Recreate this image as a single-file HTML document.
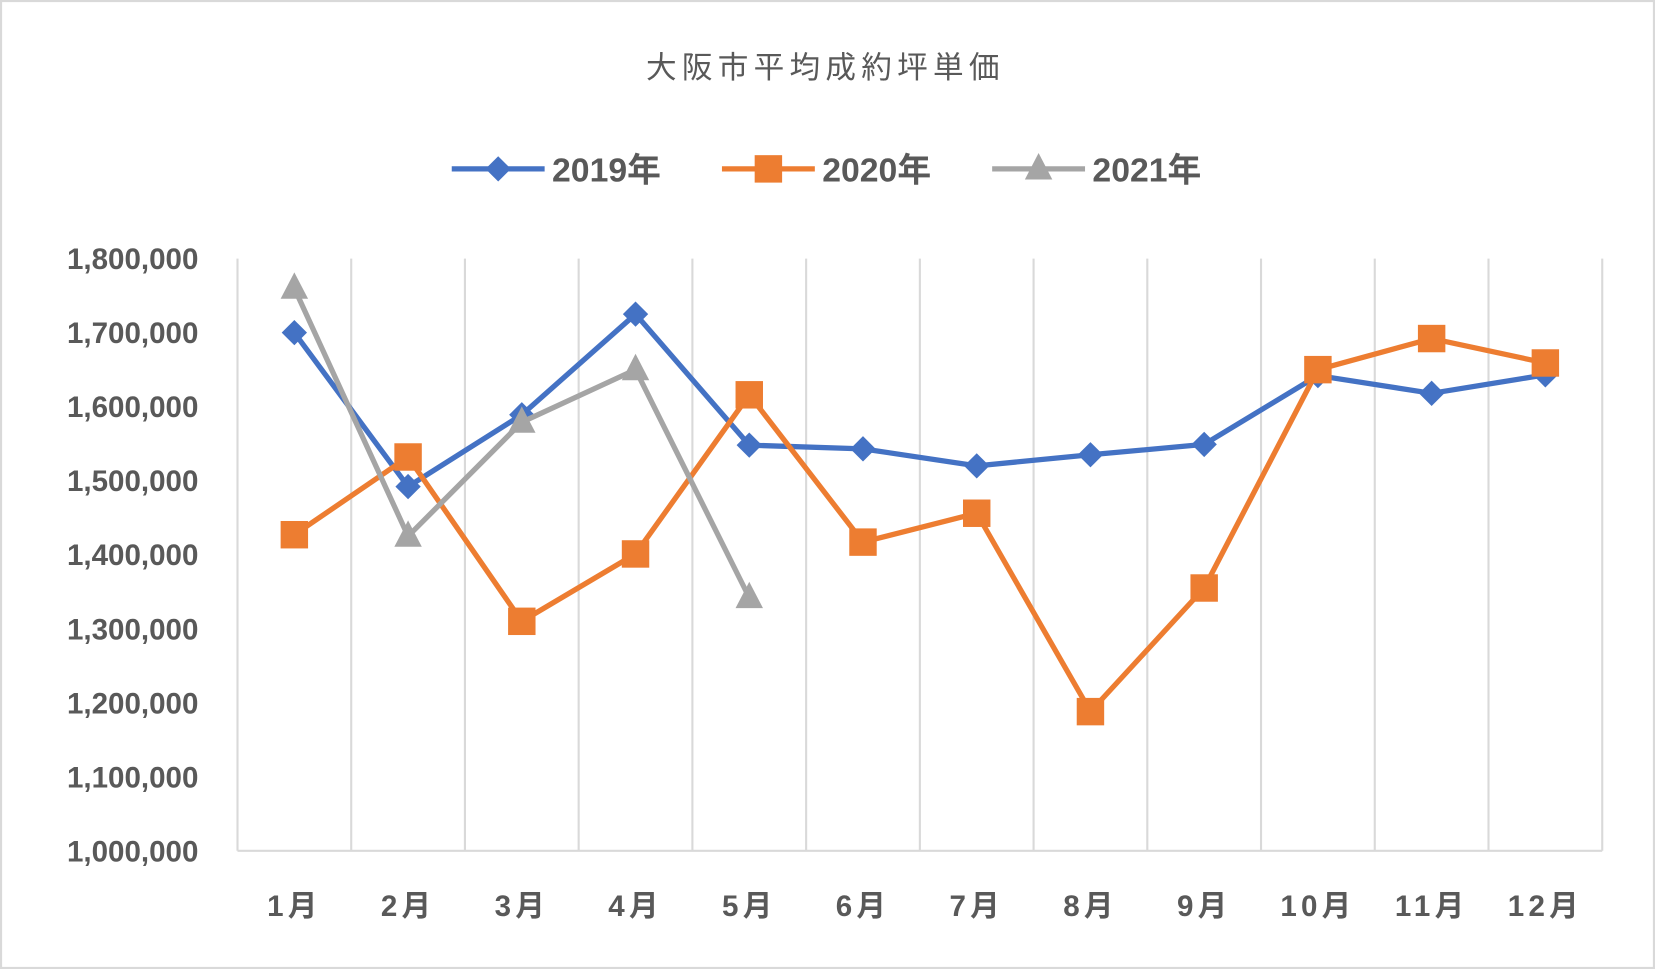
<!DOCTYPE html>
<html><head><meta charset="utf-8"><style>
html,body{margin:0;padding:0;background:#fff}
svg{display:block}
text{font-family:"Liberation Sans","Noto Sans CJK JP",sans-serif;fill:#595959}
</style></head><body>
<svg id="chart" width="1655" height="969" viewBox="0 0 1568 918" preserveAspectRatio="none">
<rect x="1" y="1" width="1566" height="916" fill="#fff" stroke="#d9d9d9" stroke-width="2"/>
<text x="782" y="74" text-anchor="middle" font-size="29" letter-spacing="5">大阪市平均成約坪単価</text>
<g id="legend"></g>
<g id="grid"></g>
<g id="series"></g>
</svg>
<script>
const categories=["1月","2月","3月","4月","5月","6月","7月","8月","9月","10月","11月","12月"];
const seriesNames=["2019年","2020年","2021年"];
const s2019=[1700000,1492000,1589000,1725000,1548000,1543000,1520000,1535000,1549000,1642000,1618000,1643000];
const s2020=[1427000,1532000,1310000,1401000,1616000,1417000,1456000,1188000,1355000,1650000,1692000,1659000];
const s2021=[1760000,1425000,1579000,1650000,1342000];
const yTicks=[1000000,1100000,1200000,1300000,1400000,1500000,1600000,1700000,1800000];
const colors=["#4472C4","#ED7D31","#A5A5A5"];
const NS="http://www.w3.org/2000/svg";
const L=225,R=1518,T=245,B=806,yMin=1000000,yMax=1800000;
const bw=(R-L)/categories.length;
function xs(i){return L+bw*(i+0.5);}
function ys(v){return B-(v-yMin)/(yMax-yMin)*(B-T);}
function mk(tag,a,parent){const e=document.createElementNS(NS,tag);for(const k in a)e.setAttribute(k,a[k]);parent.appendChild(e);return e;}
const grid=document.getElementById('grid');
for(let i=0;i<=categories.length;i++){
 const l=mk('line',{x1:L+bw*i,x2:L+bw*i,y1:T,y2:B,stroke:'#d9d9d9','stroke-width':2},grid);
 
 
}
const ax=mk('line',{x1:L,x2:R,y1:B,y2:B,stroke:'#d9d9d9','stroke-width':2},grid);


yTicks.forEach(v=>{
 const t=mk('text',{x:188,y:ys(v)+10,'text-anchor':'end','font-size':28,'font-weight':'bold'},grid);
 t.textContent=v.toLocaleString('en-US');
 
 
});
categories.forEach((c,i)=>{
 const t=mk('text',{x:xs(i),y:868,'text-anchor':'middle','font-size':28,'font-weight':'bold','letter-spacing':4},grid);
 t.textContent=c;
 
 
});
function marker(kind,x,y,col,g){
 let e;
 if(kind===0)e=mk('polygon',{points:`${x},${y-12} ${x+12},${y} ${x},${y+12} ${x-12},${y}`,fill:col},g);
 else if(kind===1)e=mk('rect',{x:x-13,y:y-13,width:26,height:26,fill:col},g);
 else e=mk('polygon',{points:`${x},${y-15} ${x+13},${y+10} ${x-13},${y+10}`,fill:col},g);
 
 
}
const sg=document.getElementById('series');
[s2019,s2020,s2021].forEach((d,k)=>{
 const g=mk('g',{},sg);
 
 
 const p=mk('polyline',{points:d.map((v,i)=>xs(i)+','+ys(v)).join(' '),fill:'none',stroke:colors[k],'stroke-width':5,'stroke-linejoin':'round'},g);
 
 
 d.forEach((v,i)=>marker(k,xs(i),ys(v),colors[k],g));
});
const lg=document.getElementById('legend');
const lx=[428,684,940];
seriesNames.forEach((n,k)=>{
 const g=mk('g',{},lg);
 
 
 mk('line',{x1:lx[k],x2:lx[k]+88,y1:160,y2:160,stroke:colors[k],'stroke-width':5},g);
 marker(k,lx[k]+44,160,colors[k],g);
 const t=mk('text',{x:lx[k]+95,y:172,'font-size':32,'font-weight':'bold'},g);
 t.textContent=n;
 
 
});
</script>
</body></html>
